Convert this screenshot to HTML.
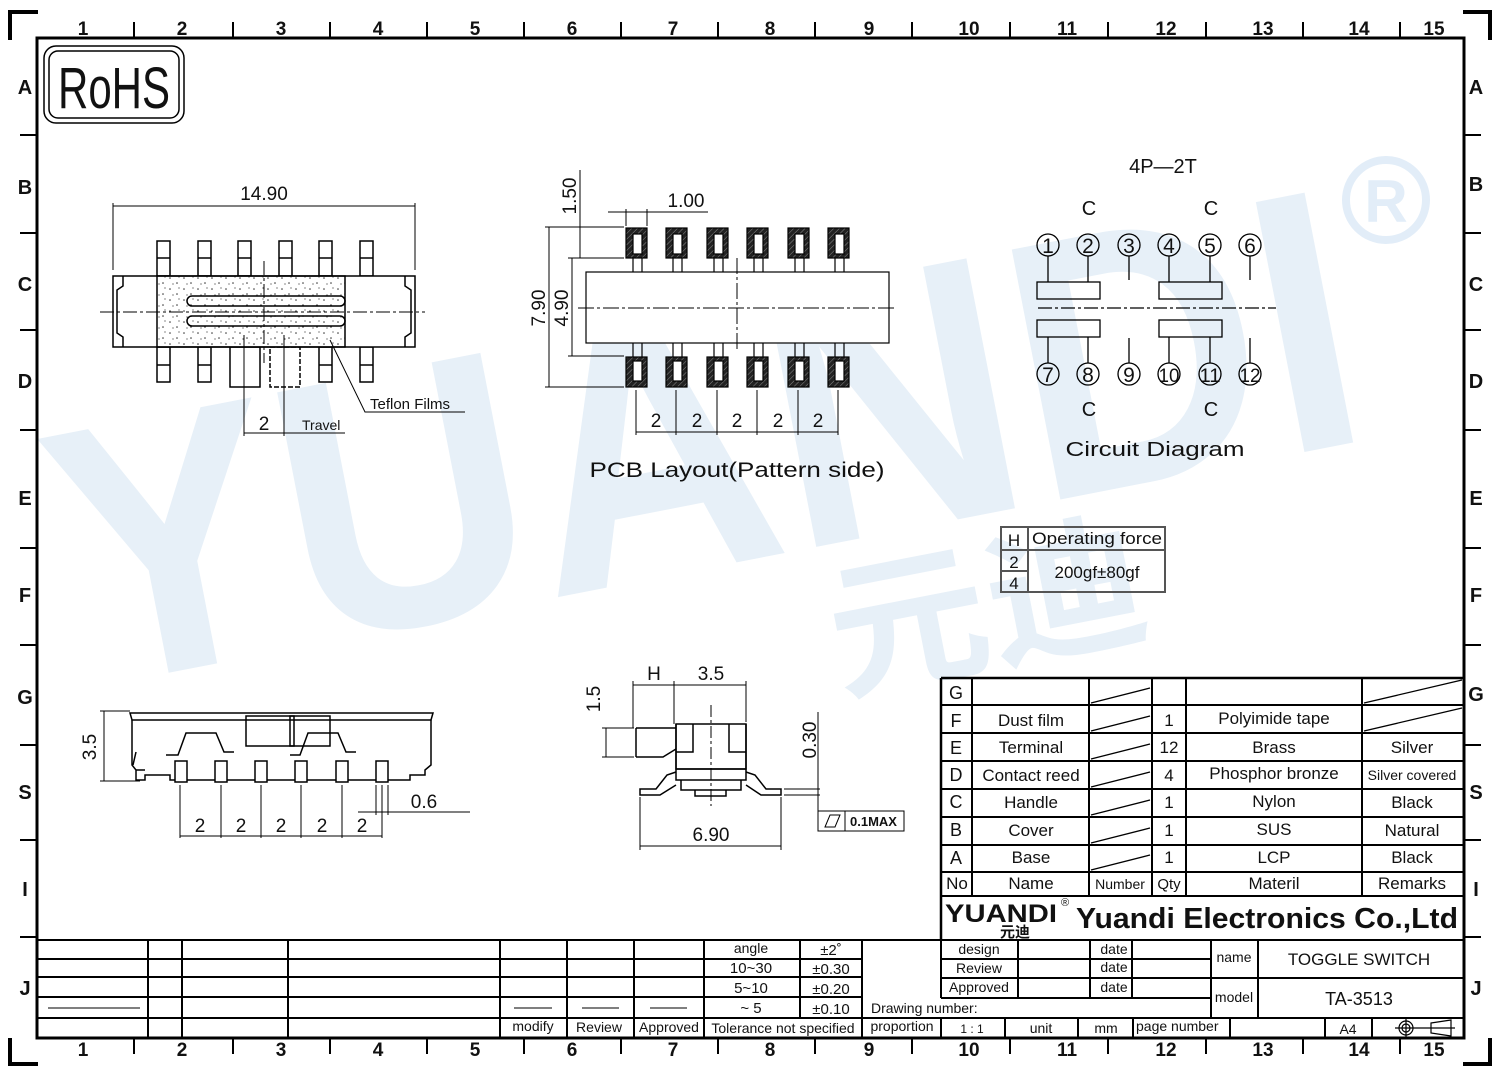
<!DOCTYPE html>
<html><head><meta charset="utf-8"><style>
html,body{margin:0;padding:0;background:#fff}
svg{display:block}
text{font-family:"Liberation Sans","Noto Sans CJK SC",sans-serif;fill:#111}
.n{font-size:19px}
.t{font-size:16px;fill:#333}
.b{font-weight:bold}
</style></head><body>
<svg width="1500" height="1075" viewBox="0 0 1500 1075" xmlns="http://www.w3.org/2000/svg">
<defs>
<pattern id="h" width="4" height="4" patternUnits="userSpaceOnUse" patternTransform="rotate(45)"><rect width="4" height="4" fill="#222"/><line x1="0" y1="0" x2="0" y2="4" stroke="#888" stroke-width="1"/></pattern>
<pattern id="dots" width="14" height="11" patternUnits="userSpaceOnUse"><circle cx="2" cy="3" r="0.8" fill="#333"/><circle cx="9" cy="8" r="0.8" fill="#333"/><circle cx="11" cy="2" r="0.6" fill="#333"/><circle cx="5" cy="9" r="0.6" fill="#333"/></pattern>
</defs>
<!-- watermark -->
<text x="0" y="0" transform="translate(80,690) rotate(-11)" font-size="370" font-weight="bold" textLength="1320" lengthAdjust="spacingAndGlyphs" style="fill:#e7f0f8">YUANDI</text>
<text x="0" y="0" transform="translate(840,690) rotate(-11)" font-size="150" font-weight="bold" textLength="320" lengthAdjust="spacingAndGlyphs" style="fill:#e7f0f8">元迪</text>
<circle cx="1386" cy="200" r="40" fill="none" stroke="#e2edf8" stroke-width="8"/>
<text x="1386" y="222" font-size="60" font-weight="bold" text-anchor="middle" style="fill:#e2edf8">R</text>

<!-- frame -->
<g stroke="#000" fill="none">
<rect x="37" y="38" width="1427" height="1000" stroke-width="3"/>
<path d="M10 40V12H38M1463 12H1490V40M10 1038V1064H38M1463 1064H1490V1038" stroke-width="4"/>
<g stroke-width="2">
<path d="M134 22V38M233 22V38M330 22V38M427 22V38M524 22V38M621 22V38M718 22V38M815 22V38M912 22V38M1010 22V38M1108 22V38M1206 22V38M1303 22V38M1400 22V38"/>
<path d="M134 1038V1054M233 1038V1054M330 1038V1054M427 1038V1054M524 1038V1054M621 1038V1054M718 1038V1054M815 1038V1054M912 1038V1054M1010 1038V1054M1108 1038V1054M1206 1038V1054M1303 1038V1054M1400 1038V1054"/>
<path d="M20 135H37M20 233H37M20 330H37M20 430H37M20 548H37M20 645H37M20 745H37M20 840H37M20 937H37"/>
<path d="M1464 135H1481M1464 233H1481M1464 330H1481M1464 430H1481M1464 548H1481M1464 645H1481M1464 745H1481M1464 840H1481M1464 937H1481"/>
</g></g>
<g class="b" font-size="19" text-anchor="middle">
<text x="83" y="35">1</text><text x="182" y="35">2</text><text x="281" y="35">3</text><text x="378" y="35">4</text><text x="475" y="35">5</text><text x="572" y="35">6</text><text x="673" y="35">7</text><text x="770" y="35">8</text><text x="869" y="35">9</text><text x="969" y="35">10</text><text x="1067" y="35">11</text><text x="1166" y="35">12</text><text x="1263" y="35">13</text><text x="1359" y="35">14</text><text x="1434" y="35">15</text>
<text x="83" y="1056">1</text><text x="182" y="1056">2</text><text x="281" y="1056">3</text><text x="378" y="1056">4</text><text x="475" y="1056">5</text><text x="572" y="1056">6</text><text x="673" y="1056">7</text><text x="770" y="1056">8</text><text x="869" y="1056">9</text><text x="969" y="1056">10</text><text x="1067" y="1056">11</text><text x="1166" y="1056">12</text><text x="1263" y="1056">13</text><text x="1359" y="1056">14</text><text x="1434" y="1056">15</text>
<g font-size="20" fill="#333">
<text x="25" y="94">A</text><text x="25" y="194">B</text><text x="25" y="291">C</text><text x="25" y="388">D</text><text x="25" y="505">E</text><text x="25" y="602">F</text><text x="25" y="704">G</text><text x="25" y="799">S</text><text x="25" y="896">I</text><text x="25" y="995">J</text>
<text x="1476" y="94">A</text><text x="1476" y="191">B</text><text x="1476" y="291">C</text><text x="1476" y="388">D</text><text x="1476" y="505">E</text><text x="1476" y="602">F</text><text x="1476" y="701">G</text><text x="1476" y="799">S</text><text x="1476" y="896">I</text><text x="1476" y="995">J</text>
</g></g>

<!-- RoHS -->
<rect x="44" y="46" width="140" height="77" rx="12" fill="none" stroke="#000" stroke-width="1.5"/>
<rect x="49" y="51" width="130" height="67" rx="9" fill="none" stroke="#000" stroke-width="1.5"/>
<text x="114" y="108" font-size="58" text-anchor="middle" textLength="112" lengthAdjust="spacingAndGlyphs">RoHS</text>

<!-- top-left view -->
<g stroke="#000" stroke-width="1.5" fill="#fff">
<g id="pin"><rect x="157" y="241" width="13" height="35"/><line x1="157" y1="258" x2="170" y2="258"/></g>
<use href="#pin" x="41"/><use href="#pin" x="81"/><use href="#pin" x="122"/><use href="#pin" x="162"/><use href="#pin" x="203"/>
<rect x="157" y="347" width="13" height="35"/><rect x="198" y="347" width="13" height="35"/><rect x="319" y="347" width="13" height="35"/><rect x="360" y="347" width="13" height="35"/>
<line x1="157" y1="365" x2="170" y2="365"/><line x1="198" y1="365" x2="211" y2="365"/><line x1="319" y1="365" x2="332" y2="365"/><line x1="360" y1="365" x2="373" y2="365"/>
<rect x="230" y="347" width="30" height="40"/><rect x="270" y="347" width="30" height="40" stroke-dasharray="5 2"/>
<rect x="113" y="276" width="302" height="71"/>
<rect x="157" y="276" width="188" height="71" fill="url(#dots)"/>
<rect x="187" y="296" width="158" height="10" rx="5" fill="none"/>
<rect x="187" y="316" width="158" height="10" rx="5" fill="none"/>
<path d="M123 276V286L117 290V333L123 337V347M405 276V286L411 290V333L405 337V347" fill="none"/>
</g>
<g stroke="#000" stroke-width="1" fill="none">
<path d="M100 312H425" stroke-dasharray="14 3 3 3"/>
<path d="M264 261V363" stroke-dasharray="14 3 3 3"/>
<path d="M113 203V270M415 203V270M113 206H415"/>
<path d="M244 335V436M284 335V436M244 433H284M284 433H345"/>
<path d="M330 340L365 412H465"/>
</g>
<text x="264" y="200" class="n" text-anchor="middle">14.90</text>
<text x="264" y="430" class="n" text-anchor="middle">2</text>
<text x="302" y="430" font-size="14">Travel</text>
<text x="370" y="409" font-size="15">Teflon  Films</text>

<!-- PCB layout -->
<g stroke="#000" stroke-width="1.2">
<g id="pad"><rect x="626" y="228" width="21" height="30" fill="url(#h)"/><rect x="633" y="234" width="9" height="20" fill="#fff"/><line x1="633" y1="258" x2="633" y2="272"/><line x1="642" y1="258" x2="642" y2="272"/></g>
<use href="#pad" x="40"/><use href="#pad" x="81"/><use href="#pad" x="121"/><use href="#pad" x="162"/><use href="#pad" x="202"/>
<g id="pad2"><rect x="626" y="357" width="21" height="30" fill="url(#h)"/><rect x="633" y="361" width="9" height="20" fill="#fff"/><line x1="633" y1="343" x2="633" y2="357"/><line x1="642" y1="343" x2="642" y2="357"/></g>
<use href="#pad2" x="40"/><use href="#pad2" x="81"/><use href="#pad2" x="121"/><use href="#pad2" x="162"/><use href="#pad2" x="202"/>
<rect x="586" y="272" width="303" height="71" fill="#fff"/>
</g>
<g stroke="#000" stroke-width="1" fill="none">
<path d="M578 308H897" stroke-dasharray="16 3 3 3"/>
<path d="M737 258V352" stroke-dasharray="16 3 3 3"/>
<path d="M545 227H624M549 227V387M545 387H624M568 258H624M572 258V356M568 356H624M580 170V258"/>
<path d="M626 209V226M647 209V226M608 212H708"/>
<path d="M636 390V435M676 390V435M717 390V435M757 390V435M798 390V435M838 390V435M636 432H838"/>
</g>
<g class="n" text-anchor="middle">
<text x="686" y="207">1.00</text>
<text transform="translate(576,196) rotate(-90)">1.50</text>
<text transform="translate(545,308) rotate(-90)">7.90</text>
<text transform="translate(568,308) rotate(-90)">4.90</text>
<text x="656" y="427">2</text><text x="697" y="427">2</text><text x="737" y="427">2</text><text x="778" y="427">2</text><text x="818" y="427">2</text>
<text x="737" y="477" font-size="21" textLength="295" lengthAdjust="spacingAndGlyphs">PCB  Layout(Pattern  side)</text>
</g>

<!-- circuit -->
<g stroke="#000" stroke-width="1.3" fill="none">
<circle cx="1048" cy="245" r="11"/><circle cx="1088" cy="245" r="11"/><circle cx="1129" cy="245" r="11"/><circle cx="1169" cy="245" r="11"/><circle cx="1210" cy="245" r="11"/><circle cx="1250" cy="245" r="11"/>
<circle cx="1048" cy="374" r="11"/><circle cx="1088" cy="374" r="11"/><circle cx="1129" cy="374" r="11"/><circle cx="1169" cy="374" r="11"/><circle cx="1210" cy="374" r="11"/><circle cx="1250" cy="374" r="11"/>
<rect x="1037" y="282" width="63" height="17"/><rect x="1159" y="282" width="63" height="17"/>
<rect x="1037" y="320" width="63" height="17"/><rect x="1159" y="320" width="63" height="17"/>
<path d="M1048 256V282M1088 256V282M1129 256V280M1169 256V282M1210 256V282M1250 256V280M1048 337V363M1088 337V363M1129 338V363M1169 337V363M1210 337V363M1250 338V363"/>
<path d="M1038 308H1276" stroke-dasharray="14 3 3 3"/>
</g>
<g font-size="21" text-anchor="middle">
<text x="1048" y="253">1</text><text x="1088" y="253">2</text><text x="1129" y="253">3</text><text x="1169" y="253">4</text><text x="1210" y="253">5</text><text x="1250" y="253">6</text>
<text x="1048" y="382">7</text><text x="1088" y="382">8</text><text x="1129" y="382">9</text><text x="1169" y="382" font-size="19" textLength="21" lengthAdjust="spacingAndGlyphs">10</text><text x="1210" y="382" font-size="19" textLength="21" lengthAdjust="spacingAndGlyphs">11</text><text x="1250" y="382" font-size="19" textLength="21" lengthAdjust="spacingAndGlyphs">12</text>
</g>
<g font-size="20" text-anchor="middle">
<text x="1163" y="173">4P—2T</text>
<text x="1089" y="215">C</text><text x="1211" y="215">C</text><text x="1089" y="416">C</text><text x="1211" y="416">C</text>
<text x="1155" y="456" textLength="179" lengthAdjust="spacingAndGlyphs">Circuit  Diagram</text>
</g>

<!-- operating force -->
<g stroke="#555" stroke-width="2" fill="none">
<rect x="1001" y="527" width="164" height="65"/><path d="M1028 527V592M1001 550H1165M1001 571H1028"/>
</g>
<text x="1014" y="546" font-size="17" text-anchor="middle">H</text>
<text x="1097" y="544" font-size="17" text-anchor="middle" textLength="130" lengthAdjust="spacingAndGlyphs">Operating force</text>
<text x="1014" y="568" font-size="17" text-anchor="middle">2</text><text x="1014" y="589" font-size="17" text-anchor="middle">4</text>
<text x="1097" y="578" font-size="17" text-anchor="middle">200gf±80gf</text>

<!-- side view -->
<g stroke="#000" stroke-width="1.5" fill="none">
<path d="M130 713H433L431 720H132Z"/>
<path d="M132 720V765L136 770V780H145V775H170V780H410V775H425V770L431 765V720"/>
<path d="M136 770H145M136 752L133 765"/>
<rect x="246" y="716" width="48" height="30"/><rect x="290" y="716" width="40" height="30"/>
<path d="M166 755H178L186 733H216L224 752H234M290 755H300L308 733H338L346 752H356"/>
<g fill="#fff"><rect x="175" y="761" width="12" height="21"/><rect x="215" y="761" width="12" height="21"/><rect x="255" y="761" width="12" height="21"/><rect x="295" y="761" width="12" height="21"/><rect x="336" y="761" width="12" height="21"/><rect x="376" y="761" width="12" height="21"/></g>
</g>
<g stroke="#000" stroke-width="1" fill="none">
<path d="M100 711H130M100 781H140M104 711V781"/>
<path d="M180 785V838M221 785V838M261 785V838M301 785V838M342 785V838M382 785V838M180 836H382M376 785V815M388 785V815M358 812H470"/>
</g>
<g class="n" text-anchor="middle">
<text transform="translate(96,747) rotate(-90)">3.5</text>
<text x="200" y="832">2</text><text x="241" y="832">2</text><text x="281" y="832">2</text><text x="322" y="832">2</text><text x="362" y="832">2</text>
<text x="424" y="808">0.6</text>
</g>

<!-- end view -->
<g stroke="#000" stroke-width="1.5" fill="none">
<rect x="676" y="724" width="70" height="45"/>
<path d="M676 724V780H746V724M676 769H746M676 752H693V724M746 752H729V724"/>
<path d="M636 728H676M636 757H663L676 749M636 728V757"/>
<path d="M681 780V790H741V780M695 790V796H726V790"/>
<path d="M676 772L667 775L656 789H640V795H660L676 785M746 772L755 775L766 789H781V795H761L746 785"/>
</g>
<g stroke="#000" stroke-width="1" fill="none">
<path d="M711 705V806" stroke-dasharray="12 3 3 3"/>
<path d="M633 681V728M674 681V724M746 681V722M633 685H746M602 728H634M602 757H634M606 728V757"/>
<path d="M640 797V850M781 797V850M640 846H781"/>
<path d="M784 789H820M784 795H820M818 712V815"/>
<rect x="818" y="811" width="86" height="20"/><path d="M845 811V831"/>
<path d="M825 827L830 815H840L835 827Z"/>
</g>
<g class="n" text-anchor="middle">
<text x="654" y="680">H</text><text x="711" y="680">3.5</text>
<text transform="translate(600,699) rotate(-90)">1.5</text>
<text transform="translate(816,740) rotate(-90)">0.30</text>
<text x="711" y="841">6.90</text>
</g>
<text x="850" y="826" font-size="13" font-weight="bold">0.1MAX</text>

<!-- parts table -->
<g stroke="#000" fill="none" stroke-width="2.5">
<path d="M941 678H1464M941 678V940"/>
<path d="M941 705H1464M941 733H1464M941 761H1464M941 789H1464M941 817H1464M941 845H1464M941 872H1464M941 896H1464M941 940H1464" stroke-width="2"/>
<path d="M972 678V896M1089 678V896M1152 678V896M1186 678V896M1362 678V896" stroke-width="2"/>
<path d="M1091 703L1150 688M1091 731L1150 716M1091 759L1150 744M1091 787L1150 772M1091 815L1150 800M1091 843L1150 828M1091 870L1150 855M1364 703L1462 680M1364 731L1462 708" stroke-width="1.3"/>
</g>
<g font-size="18" fill="#333" text-anchor="middle">
<text x="956" y="699">G</text><text x="956" y="727">F</text><text x="956" y="754">E</text><text x="956" y="781">D</text><text x="956" y="808">C</text><text x="956" y="836">B</text><text x="956" y="864">A</text>
<text x="1031" y="726" font-size="17">Dust film</text><text x="1031" y="753" font-size="17">Terminal</text><text x="1031" y="781" font-size="17">Contact reed</text><text x="1031" y="808" font-size="17">Handle</text><text x="1031" y="836" font-size="17">Cover</text><text x="1031" y="863" font-size="17">Base</text>
<g font-size="17"><text x="1169" y="726">1</text><text x="1169" y="753">12</text><text x="1169" y="781">4</text><text x="1169" y="808">1</text><text x="1169" y="836">1</text><text x="1169" y="863">1</text>
<text x="1274" y="724">Polyimide tape</text><text x="1274" y="753">Brass</text><text x="1274" y="779">Phosphor bronze</text><text x="1274" y="807">Nylon</text><text x="1274" y="835">SUS</text><text x="1274" y="863">LCP</text>
<text x="1412" y="753">Silver</text><text x="1412" y="780" font-size="14">Silver covered</text><text x="1412" y="808">Black</text><text x="1412" y="836">Natural</text><text x="1412" y="863">Black</text>
<text x="957" y="889">No</text><text x="1031" y="889">Name</text><text x="1120" y="889" font-size="14">Number</text><text x="1169" y="889" font-size="15">Qty</text><text x="1274" y="889">Materil</text><text x="1412" y="889">Remarks</text></g>
</g>
<text x="945" y="922" font-size="25" font-weight="bold" textLength="112" lengthAdjust="spacingAndGlyphs">YUANDI</text>
<text x="1000" y="937" font-size="15" font-weight="bold">元迪</text>
<text x="1061" y="906" font-size="11">®</text>
<text x="1076" y="928" font-size="29" font-weight="bold" textLength="382" lengthAdjust="spacingAndGlyphs">Yuandi Electronics Co.,Ltd</text>

<!-- lower title block right -->
<g stroke="#000" fill="none" stroke-width="2">
<path d="M941 940V998M941 1018V1038M1211 940V1018M1258 940V1018M1211 978H1464"/>
<path d="M941 959H1211M941 978H1211M941 998H1211M862 1018H1464"/>
<path d="M1018 940V998M1090 940V998M1132 940V998"/>
<path d="M1005 1018V1038M1078 1018V1038M1133 1018V1038M1230 1018V1038M1325 1018V1038M1372 1018V1038"/>
</g>
<g font-size="14" fill="#333">
<text x="979" y="954" text-anchor="middle">design</text><text x="979" y="973" text-anchor="middle">Review</text><text x="979" y="992" text-anchor="middle">Approved</text>
<text x="1114" y="954" text-anchor="middle">date</text><text x="1114" y="972" text-anchor="middle">date</text><text x="1114" y="992" text-anchor="middle">date</text>
<text x="1234" y="962" text-anchor="middle">name</text><text x="1234" y="1002" text-anchor="middle">model</text>
<text x="1359" y="965" text-anchor="middle" font-size="17">TOGGLE SWITCH</text><text x="1359" y="1005" text-anchor="middle" font-size="18">TA-3513</text>
<text x="871" y="1013">Drawing number:</text>
<text x="972" y="1033" text-anchor="middle" font-size="12">1 : 1</text><text x="1041" y="1033" text-anchor="middle">unit</text><text x="1106" y="1033" text-anchor="middle">mm</text><text x="1136" y="1031">page number</text><text x="1348" y="1034" text-anchor="middle">A4</text>
</g>
<g stroke="#000" stroke-width="1.2" fill="none">
<circle cx="1406" cy="1028" r="7"/><circle cx="1406" cy="1028" r="4"/><path d="M1395 1028H1455M1406 1018V1038M1431 1023L1451 1020V1036L1431 1033Z"/>
</g>

<!-- lower title block left -->
<g stroke="#000" fill="none" stroke-width="2">
<path d="M37 940H941M37 959H862M37 977H862M37 997H862M37 1018H862"/>
<path d="M148 940V1038M182 940V1038M288 940V1038M500 940V1038M567 940V1038M634 940V1038M704 940V1038M800 940V1018M862 940V1038"/>
<path d="M48 1008H140M514 1008H552M582 1008H619M650 1008H687" stroke="#555" stroke-width="1.5"/>
</g>
<g font-size="15" fill="#333" text-anchor="middle">
<text x="751" y="953" font-size="14">angle</text><text x="831" y="955">±2˚</text>
<text x="751" y="973">10~30</text><text x="831" y="974">±0.30</text>
<text x="751" y="993">5~10</text><text x="831" y="994">±0.20</text>
<text x="751" y="1013">~ 5</text><text x="831" y="1014">±0.10</text>
<text x="533" y="1031" font-size="14">modify</text><text x="599" y="1032" font-size="14">Review</text><text x="669" y="1032" font-size="14">Approved</text>
<text x="783" y="1033" font-size="14">Tolerance not specified</text><text x="902" y="1031" font-size="14">proportion</text>
</g>
</svg>
</body></html>
